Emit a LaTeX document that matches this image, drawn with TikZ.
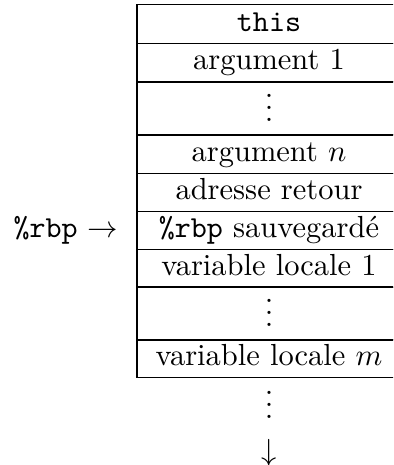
\documentclass[tikz,border=0pt]{standalone}
\usepackage{fontspec}

\begin{document}
\begin{tikzpicture}[
  case/.style={draw, inner sep=0pt, minimum width=264*\u, minimum height=38.5*\u,
    text height=8.4pt, text depth=3.6pt},
  trou/.style={draw, inner sep=0pt, minimum width=264*\u, minimum height=52*\u,
    text height=13pt, text depth=4.4pt}]
\def\u{0.3279pt}
\clip (0, 0) rectangle (393*\u, -465*\u);

\node[case] (this) at (269*\u, -24*\u) {\texttt{this}};
\node[case] (arg1) at (269*\u, -62.5*\u) {argument 1};
\node[trou] (dotsa) at (269*\u, -108.5*\u) {$\vdots$};
\node[case] (argn) at (269*\u, -154*\u) {argument $n$};
\node[case] (ret) at (269*\u, -192.5*\u) {adresse retour};
\node[case] (rbp) at (269*\u, -230.5*\u) {\texttt{\%rbp} sauvegardé};
\node[case] (var1) at (269*\u, -268.5*\u) {variable locale 1};
\node[trou] (dotsb) at (269*\u, -313.5*\u) {$\vdots$};
\node[case] (varm) at (269*\u, -358.5*\u) {variable locale $m$};

\node[inner sep=0pt, anchor=base] (suite) at (269*\u, -418.5*\u) {$\vdots$};
\node[inner sep=0pt, anchor=base] (bas) at (269*\u, -460*\u) {$\downarrow$};

\node[inner sep=0pt, text height=8.4pt, text depth=3.6pt] (ptr) at (66*\u, -230.5*\u) {\texttt{\%rbp} $\rightarrow$};
\end{tikzpicture}
\end{document}
